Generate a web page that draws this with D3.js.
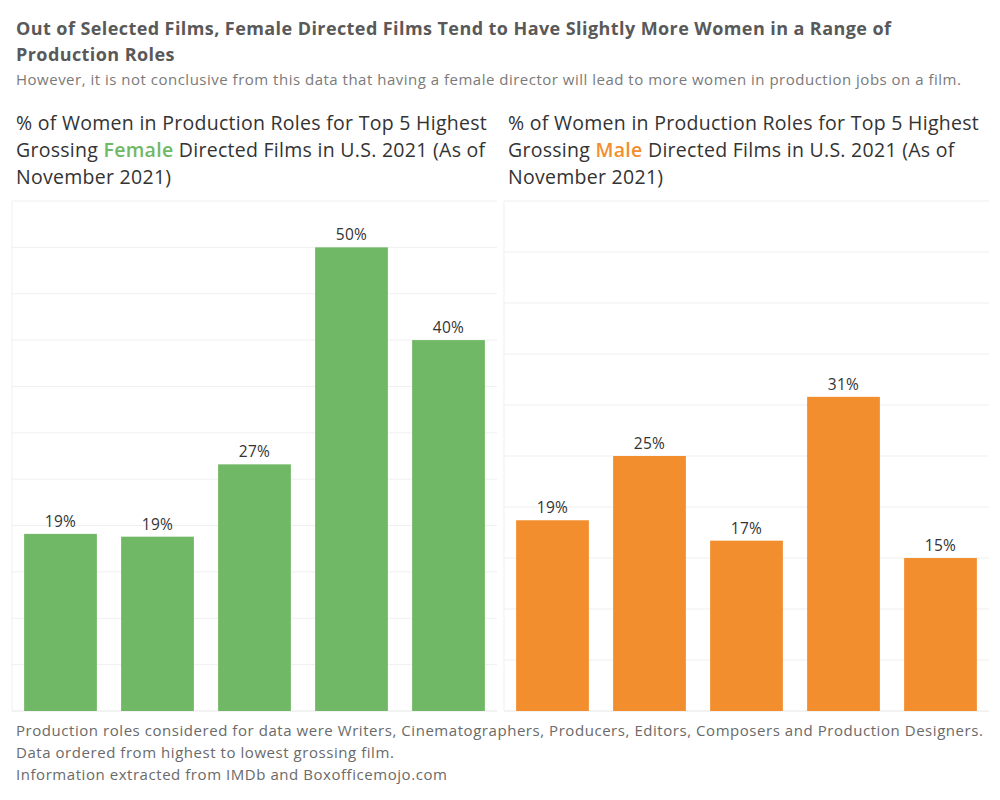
<!DOCTYPE html>
<html>
<head>
<meta charset="utf-8">
<script src="https://cdn.jsdelivr.net/npm/d3@7"></script>
<style>
  body { margin: 0; background: #fff; }
  text { font-family: "Open Sans", "Noto Sans", sans-serif; }
</style>
</head>
<body>
<div id="chart"></div>
<script>
// films ordered from highest to lowest grossing
const femaleFilms = ["F1", "F2", "F3", "F4", "F5"];
const femaleValues = [19.1, 18.8, 26.6, 50.0, 40.0];
const maleFilms = ["M1", "M2", "M3", "M4", "M5"];
const maleValues = [18.7, 25.0, 16.7, 30.8, 15.0];

const femaleTicks = [5, 10, 15, 20, 25, 30, 35, 40, 45, 50, 55];
const maleTicks = [5, 10, 15, 20, 25, 30, 35, 40, 45, 50];

const titleLines = [
    "Out of Selected Films, Female Directed Films Tend to Have Slightly More Women in a Range of",
    "Production Roles"
];
const subtitle = "However, it is not conclusive from this data that having a female director will lead to more women in production jobs on a film.";
const footnotes = [
    "Production roles considered for data were Writers, Cinematographers, Producers, Editors, Composers and Production Designers.",
    "Data ordered from highest to lowest grossing film.",
    "Information extracted from IMDb and Boxofficemojo.com"
];

const width = 1000, height = 800;
const plotTop = 201, plotBottom = 711;

const svg = d3.select("#chart").append("svg")
    .attr("width", width)
    .attr("height", height);

// main title
svg.selectAll(".title")
    .data(titleLines)
    .enter()
    .append("text")
    .attr("class", "title")
    .attr("x", 16)
    .attr("y", (d, i) => 35 + i * 26)
    .style("font-size", "18px")
    .style("letter-spacing", "0.42px")
    .style("font-weight", "bold")
    .style("fill", "#595959")
    .text(d => d);

svg.append("text")
    .attr("x", 16)
    .attr("y", 85)
    .style("font-size", "15px")
    .style("letter-spacing", "0.5px")
    .style("fill", "#7a7a7a")
    .text(subtitle);

function drawPanel(opts) {
    const g = svg.append("g");

    const x = d3.scaleBand()
        .domain(opts.films)
        .range([opts.left, opts.left + 485])
        .paddingInner(0.25)
        .paddingOuter(0.125);

    const y = d3.scaleLinear()
        .domain([0, d3.max(opts.ticks)])
        .range([plotBottom, plotTop]);

    // panel title, three lines with a coloured word
    const t = g.append("text")
        .attr("x", opts.left + 4)
        .attr("y", 130)
        .style("font-size", "19.5px")
        .style("letter-spacing", "0.28px")
        .style("fill", "#333");
    t.append("tspan").attr("x", opts.left + 4).attr("dy", 0)
        .text("% of Women in Production Roles for Top 5 Highest");
    const l2 = t.append("tspan").attr("x", opts.left + 4).attr("dy", 27);
    l2.append("tspan").text("Grossing ");
    l2.append("tspan").style("fill", opts.color).style("font-weight", "600").text(opts.word);
    l2.append("tspan").text(" Directed Films in U.S. 2021 (As of");
    t.append("tspan").attr("x", opts.left + 4).attr("dy", 27)
        .text("November 2021)");

    // gridlines
    g.selectAll(".grid")
        .data(opts.ticks)
        .enter()
        .append("line")
        .attr("x1", opts.left)
        .attr("x2", opts.left + 485)
        .attr("y1", d => y(d))
        .attr("y2", d => y(d))
        .attr("stroke", "#efefef")
        .attr("stroke-width", 1);

    // left frame and baseline
    g.append("line")
        .attr("x1", opts.left).attr("x2", opts.left)
        .attr("y1", y.range()[1]).attr("y2", y(0))
        .attr("stroke", "#efefef");
    g.append("line")
        .attr("x1", opts.left).attr("x2", opts.left + 485)
        .attr("y1", y(0)).attr("y2", y(0))
        .attr("stroke", "#e6e6e6");

    const data = opts.films.map((f, i) => ({ film: f, value: opts.values[i] }));

    g.selectAll(".bar")
        .data(data)
        .enter()
        .append("rect")
        .attr("x", d => x(d.film))
        .attr("y", d => y(d.value))
        .attr("width", x.bandwidth())
        .attr("height", d => y(0) - y(d.value))
        .attr("fill", opts.color);

    g.selectAll(".lbl")
        .data(data)
        .enter()
        .append("text")
        .attr("x", d => x(d.film) + x.bandwidth() / 2)
        .attr("y", d => y(d.value) - 7)
        .attr("text-anchor", "middle")
        .style("font-size", "15.5px")
        .style("letter-spacing", "0.3px")
        .style("fill", "#333")
        .text(d => Math.round(d.value) + "%");
}

drawPanel({ left: 12, films: femaleFilms, values: femaleValues, ticks: femaleTicks, color: "#71b866", word: "Female" });
drawPanel({ left: 504, films: maleFilms, values: maleValues, ticks: maleTicks, color: "#f28e2e", word: "Male" });

svg.selectAll(".foot")
    .data(footnotes)
    .enter()
    .append("text")
    .attr("x", 16)
    .attr("y", (d, i) => 736 + i * 22)
    .style("font-size", "15px")
    .style("letter-spacing", "0.55px")
    .style("fill", "#6a6a6a")
    .text(d => d);
</script>
</body>
</html>
